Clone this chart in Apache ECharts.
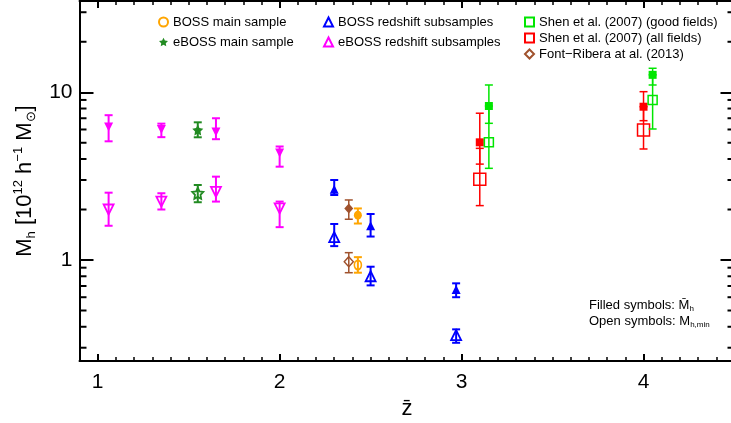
<!DOCTYPE html>
<html>
<head>
<meta charset="utf-8">
<script src="https://cdn.jsdelivr.net/npm/echarts@6/dist/echarts.min.js"></script>
<style>
  html, body { margin: 0; padding: 0; background: #fff; }
  #chart { width: 731px; height: 423px; }
</style>
</head>
<body>
<div id="chart"></div>
<script>
// eBOSS redshift subsamples (magenta, down triangles)
const ebossSubZ = [1.06, 1.35, 1.65, 2.0];
const ebossSubMean = [6.2, 6.0, 5.8, 4.35];
const ebossSubMeanLo = [5.1, 5.4, 5.25, 3.6];
const ebossSubMeanHi = [7.3, 6.5, 7.0, 4.75];
const ebossSubMin = [2.0, 2.23, 2.55, 2.03];
const ebossSubMinLo = [1.6, 2.0, 2.23, 1.57];
const ebossSubMinHi = [2.52, 2.5, 3.14, 2.23];

// eBOSS main sample (green star)
const ebossMainZ = [1.55];
const ebossMainMean = [5.96];
const ebossMainMeanLo = [5.39];
const ebossMainMeanHi = [6.62];
const ebossMainMin = [2.5];
const ebossMainMinLo = [2.21];
const ebossMainMinHi = [2.8];

// BOSS redshift subsamples (blue, up triangles)
const bossSubZ = [2.3, 2.5, 2.97];
const bossSubMean = [2.64, 1.6, 0.668];
const bossSubMeanLo = [2.44, 1.38, 0.6];
const bossSubMeanHi = [3.0, 1.88, 0.726];
const bossSubMin = [1.37, 0.8, 0.357];
const bossSubMinLo = [1.21, 0.706, 0.321];
const bossSubMinHi = [1.64, 0.912, 0.386];

// BOSS main sample (orange circle)
const bossMainZ = [2.43];
const bossMainMean = [1.85];
const bossMainMeanLo = [1.65];
const bossMainMeanHi = [2.03];
const bossMainMin = [0.934];
const bossMainMinLo = [0.84];
const bossMainMinHi = [1.04];

// Font-Ribera et al. (2013) (brown diamond)
const frZ = [2.38];
const frMean = [2.03];
const frMeanLo = [1.75];
const frMeanHi = [2.28];
const frMin = [0.977];
const frMinLo = [0.84];
const frMinHi = [1.106];

// Shen et al. (2007) all fields (red squares)
const shenAllZ = [3.1, 4.0];
const shenAllMean = [5.03, 8.2];
const shenAllMeanLo = [3.73, 6.77];
const shenAllMeanHi = [7.5, 10.08];
const shenAllMin = [3.03, 5.96];
const shenAllMinLo = [2.11, 4.59];
const shenAllMinHi = [4.63, 8.2];

// Shen et al. (2007) good fields (green squares)
const shenGoodZ = [3.15, 4.05];
const shenGoodMean = [8.28, 12.7];
const shenGoodMeanLo = [6.53, 11.05];
const shenGoodMeanHi = [11.05, 13.9];
const shenGoodMin = [5.03, 9.0];
const shenGoodMinLo = [3.52, 6.04];
const shenGoodMinHi = [8.28, 12.7];

// log-axis minor tick values
const yMinorTicks = [0.3, 0.4, 0.5, 0.6, 0.7, 0.8, 0.9, 2, 3, 4, 5, 6, 7, 8, 9, 20, 30];

const X_MIN = 0.9, X_MAX = 4.5, Y_MIN = 0.25, Y_MAX = 35;
const fontFam = '"Liberation Sans", Arial, Helvetica, sans-serif';
const STAR = 'path://M50,0 L64.7,29.8 L97.6,34.5 L73.8,57.7 L79.4,90.5 L50,75 L20.6,90.5 L26.2,57.7 L2.4,34.5 L35.3,29.8 Z';

const C = {
  magenta: '#ff00ff', green: '#228b22', blue: '#0000ff', orange: '#ffa500',
  brown: '#a0522d', red: '#ff0000', lime: '#00e600'
};

function pts(z, v) { return z.map((x, i) => [x, v[i]]); }
function bars(z, lo, hi) { return z.map((x, i) => [x, lo[i], hi[i]]); }

function filled(name, z, v, color, symbol, size, rotate) {
  return {
    name: name, type: 'scatter', data: pts(z, v), symbol: symbol, symbolSize: size,
    symbolRotate: rotate || 0, itemStyle: { color: color, opacity: 1 }, z: 2
  };
}
function open(name, z, v, color, symbol, size, rotate, bw) {
  return {
    name: name, type: 'scatter', data: pts(z, v), symbol: symbol, symbolSize: size,
    symbolRotate: rotate || 0,
    itemStyle: { color: 'rgba(255,255,255,0)', borderColor: color, borderWidth: bw || 1.8, opacity: 1 }, z: 2
  };
}
function errs(z, lo, hi, color, lw) {
  return {
    type: 'custom', data: bars(z, lo, hi), z: 3, silent: true,
    encode: { x: 0, y: [1, 2] },
    itemStyle: { color: color },
    renderItem: function (params, api) {
      const a = api.coord([api.value(0), api.value(1)]);
      const b = api.coord([api.value(0), api.value(2)]);
      const w = 4;
      const st = { stroke: color, lineWidth: lw, fill: null };
      return {
        type: 'group', children: [
          { type: 'line', shape: { x1: a[0], y1: a[1], x2: b[0], y2: b[1] }, style: st },
          { type: 'line', shape: { x1: a[0] - w, y1: a[1], x2: a[0] + w, y2: a[1] }, style: st },
          { type: 'line', shape: { x1: b[0] - w, y1: b[1], x2: b[0] + w, y2: b[1] }, style: st }
        ]
      };
    }
  };
}

const minorTickSeries = {
  type: 'custom', silent: true, z: 4,
  data: yMinorTicks.map(v => [X_MIN, v]),
  renderItem: function (params, api) {
    const l = api.coord([X_MIN, api.value(1)]);
    const r = api.coord([X_MAX, api.value(1)]);
    const st = { stroke: '#000', lineWidth: 2 };
    return {
      type: 'group', children: [
        { type: 'line', shape: { x1: l[0], y1: l[1], x2: l[0] + 7, y2: l[1] }, style: st },
        { type: 'line', shape: { x1: r[0], y1: r[1], x2: r[0] - 7, y2: r[1] }, style: st }
      ]
    };
  }
};

const isDecade = v => Math.abs(Math.log10(v) - Math.round(Math.log10(v))) < 1e-6 && v > 0.5 && v < 20;

const xAxisBase = {
  type: 'value', min: X_MIN, max: X_MAX, splitNumber: 4,
  axisLine: { onZero: false, lineStyle: { color: '#000', width: 2 } },
  axisTick: { inside: true, length: 7, lineStyle: { color: '#000', width: 2 } },
  minorTick: { show: true, splitNumber: 10, length: 4, lineStyle: { color: '#000', width: 1.5 } },
  splitLine: { show: false }
};
const yAxisBase = {
  type: 'log', logBase: 10, min: Y_MIN, max: Y_MAX,
  axisLine: { onZero: false, lineStyle: { color: '#000', width: 2 } },
  axisTick: { inside: true, length: 14, lineStyle: { color: '#000', width: 2 } },
  minorTick: { show: false },
  splitLine: { show: false }
};

const legendText = { fontSize: 13, color: '#000', fontFamily: fontFam, lineHeight: 14 };

const option = {
  backgroundColor: '#fff',
  animation: false,
  grid: { left: 79.5, width: 655, top: 1, height: 360, containLabel: false, outerBoundsMode: 'none' },
  xAxis: [
    Object.assign({}, xAxisBase, {
      position: 'bottom',
      name: 'z\u0304', nameLocation: 'middle', nameGap: 31,
      nameTextStyle: { fontSize: 22, color: '#000', fontFamily: fontFam },
      axisLabel: {
        fontSize: 21, color: '#000', margin: 11, fontFamily: fontFam,
        showMinLabel: false, showMaxLabel: false,
        formatter: v => (Math.abs(v - Math.round(v)) < 1e-6 ? String(Math.round(v)) : '')
      }
    }),
    Object.assign({}, xAxisBase, { position: 'top', axisLabel: { show: false } })
  ],
  yAxis: [
    Object.assign({}, yAxisBase, {
      position: 'left',
      name: 'M{sub|h} [10{sup|12} h{sup|\u22121} M{sub|\u2299}]',
      nameLocation: 'middle', nameGap: 40, nameRotate: 90,
      nameTextStyle: {
        fontSize: 22, color: '#000', fontFamily: fontFam, lineHeight: 26,
        rich: {
          sub: { fontSize: 13, lineHeight: 13, verticalAlign: 'bottom', fontFamily: fontFam, color: '#000' },
          sup: { fontSize: 13, lineHeight: 18, verticalAlign: 'top', fontFamily: fontFam, color: '#000' }
        }
      },
      axisLabel: {
        fontSize: 21, color: '#000', margin: 7, fontFamily: fontFam,
        formatter: v => (isDecade(v) ? String(Math.round(v)) : '')
      }
    }),
    Object.assign({}, yAxisBase, { position: 'right', axisLabel: { show: false } })
  ],
  legend: [
    {
      left: 153, top: 10, orient: 'vertical', itemGap: 6, itemWidth: 9, itemHeight: 9,
      textStyle: legendText, selectedMode: false,
      data: ['BOSS main sample', 'eBOSS main sample']
    },
    {
      left: 318, top: 10, orient: 'vertical', itemGap: 6, itemWidth: 9, itemHeight: 9,
      textStyle: legendText, selectedMode: false,
      data: ['BOSS redshift subsamples', 'eBOSS redshift subsamples']
    },
    {
      left: 519, top: 10, orient: 'vertical', itemGap: 2, itemWidth: 9, itemHeight: 9,
      textStyle: legendText, selectedMode: false,
      data: ['Shen et al. (2007) (good fields)', 'Shen et al. (2007) (all fields)', 'Font\u2212Ribera at al. (2013)']
    }
  ],
  graphic: [{
    type: 'text', left: 589, top: 297, silent: true,
    style: {
      text: 'Filled symbols: M\u0304{sub|h}\nOpen symbols: M{sub|h,min}',
      font: '13px ' + fontFam, fill: '#000', lineHeight: 16,
      rich: { sub: { fontSize: 8, lineHeight: 8, verticalAlign: 'bottom', fontFamily: fontFam, fill: '#000' } }
    }
  }],
  series: [
    filled('eBOSS redshift subsamples (mean)', ebossSubZ, ebossSubMean, C.magenta, 'triangle', 9, 180),
    open('eBOSS redshift subsamples', ebossSubZ, ebossSubMin, C.magenta, 'triangle', 10, 180),
    filled('eBOSS main sample', ebossMainZ, ebossMainMean, C.green, STAR, 11),
    open('eBOSS main sample (min)', ebossMainZ, ebossMainMin, C.green, STAR, 11),
    filled('BOSS redshift subsamples (mean)', bossSubZ, bossSubMean, C.blue, 'triangle', 9),
    open('BOSS redshift subsamples', bossSubZ, bossSubMin, C.blue, 'triangle', 10),
    filled('BOSS main sample (mean)', bossMainZ, bossMainMean, C.orange, 'circle', [8, 9]),
    open('BOSS main sample', bossMainZ, bossMainMin, C.orange, 'circle', [7, 9]),
    filled('Font\u2212Ribera (mean)', frZ, frMean, C.brown, 'diamond', [9, 10]),
    open('Font\u2212Ribera at al. (2013)', frZ, frMin, C.brown, 'diamond', [9, 10], 0, 1.5),
    filled('Shen all (mean)', shenAllZ, shenAllMean, C.red, 'rect', 8),
    open('Shen et al. (2007) (all fields)', shenAllZ, shenAllMin, C.red, 'rect', 12, 0, 1.5),
    filled('Shen good (mean)', shenGoodZ, shenGoodMean, C.lime, 'rect', 8),
    open('Shen et al. (2007) (good fields)', shenGoodZ, shenGoodMin, C.lime, 'rect', 9, 0, 1.5),
    errs(ebossSubZ, ebossSubMeanLo, ebossSubMeanHi, C.magenta, 2),
    errs(ebossSubZ, ebossSubMinLo, ebossSubMinHi, C.magenta, 2),
    errs(ebossMainZ, ebossMainMeanLo, ebossMainMeanHi, C.green, 2),
    errs(ebossMainZ, ebossMainMinLo, ebossMainMinHi, C.green, 2),
    errs(bossSubZ, bossSubMeanLo, bossSubMeanHi, C.blue, 2),
    errs(bossSubZ, bossSubMinLo, bossSubMinHi, C.blue, 2),
    errs(bossMainZ, bossMainMeanLo, bossMainMeanHi, C.orange, 2),
    errs(bossMainZ, bossMainMinLo, bossMainMinHi, C.orange, 2),
    errs(frZ, frMeanLo, frMeanHi, C.brown, 1.5),
    errs(frZ, frMinLo, frMinHi, C.brown, 1.5),
    errs(shenAllZ, shenAllMeanLo, shenAllMeanHi, C.red, 1.5),
    errs(shenAllZ, shenAllMinLo, shenAllMinHi, C.red, 1.5),
    errs(shenGoodZ, shenGoodMeanLo, shenGoodMeanHi, C.lime, 1.5),
    errs(shenGoodZ, shenGoodMinLo, shenGoodMinHi, C.lime, 1.5),
    minorTickSeries
  ]
};

echarts.init(document.getElementById('chart')).setOption(option);
</script>
</body>
</html>
